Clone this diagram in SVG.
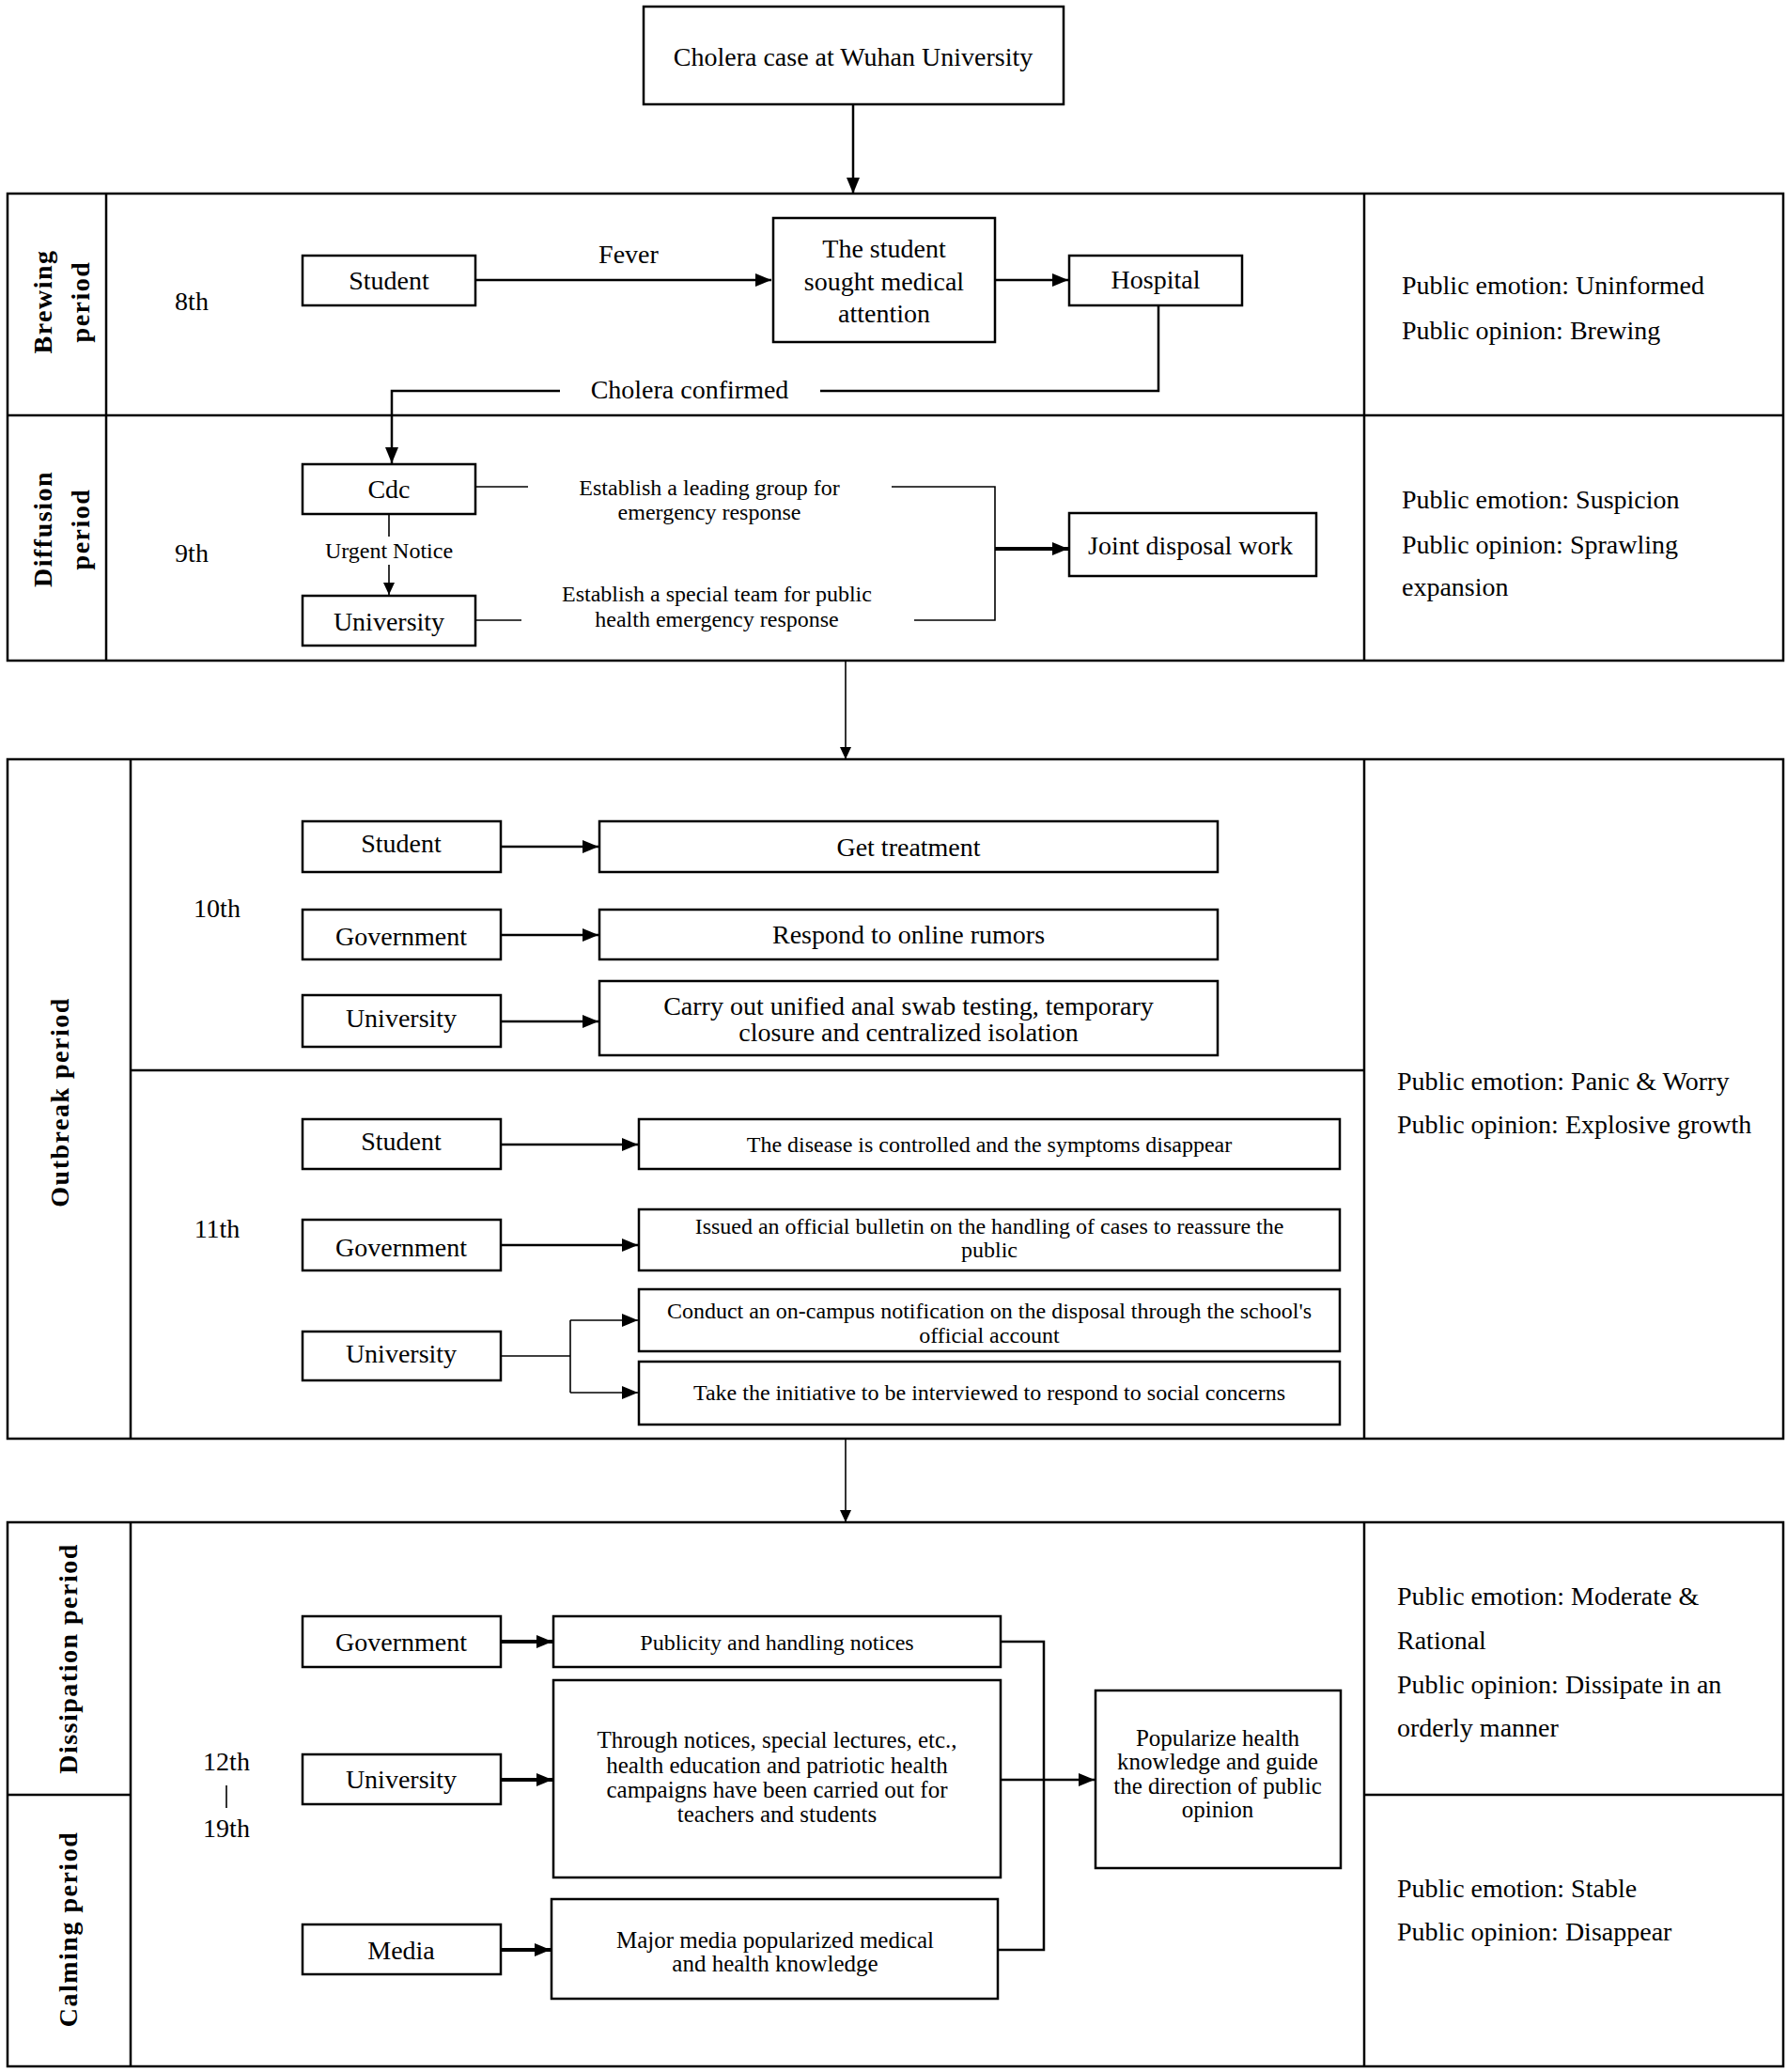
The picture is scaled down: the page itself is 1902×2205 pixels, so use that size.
<svg xmlns="http://www.w3.org/2000/svg" width="1902" height="2205" viewBox="0 0 1902 2205">
<defs>
<marker id="ah" markerUnits="userSpaceOnUse" markerWidth="18" markerHeight="16" refX="17" refY="8" orient="auto">
<path d="M0,1 L17,8 L0,15 z" fill="#000"/>
</marker>
<marker id="ahs" markerUnits="userSpaceOnUse" markerWidth="14" markerHeight="14" refX="13" refY="7" orient="auto">
<path d="M0,1 L13,7 L0,13 z" fill="#000"/>
</marker>
</defs>
<style>
.box{fill:#fff;stroke:#000;stroke-width:2.5}
.frame{fill:none;stroke:#000;stroke-width:2.5}
.ln{fill:none;stroke:#000;stroke-width:2.5}
.thin{fill:none;stroke:#000;stroke-width:1.6}
.t{font-family:"Liberation Serif","Times New Roman",serif;font-size:28px;text-anchor:middle;dominant-baseline:central;fill:#000}
.s{font-size:24px}
.m{font-size:25px}
.r{text-anchor:start}
.lbl{font-weight:bold;letter-spacing:1.5px}
</style>
<rect width="1902" height="2205" fill="#fff"/>

<g id="frames">
<rect class="frame" x="8" y="206" width="1890" height="497"/>
<line class="frame" x1="8" y1="442" x2="1898" y2="442"/>
<line class="frame" x1="113" y1="206" x2="113" y2="703"/>
<line class="frame" x1="1452" y1="206" x2="1452" y2="703"/>
<rect class="frame" x="8" y="808" width="1890" height="723"/>
<line class="frame" x1="139" y1="808" x2="139" y2="1531"/>
<line class="frame" x1="1452" y1="808" x2="1452" y2="1531"/>
<line class="frame" x1="139" y1="1139" x2="1452" y2="1139"/>
<rect class="frame" x="8" y="1620" width="1890" height="579"/>
<line class="frame" x1="139" y1="1620" x2="139" y2="2199"/>
<line class="frame" x1="1452" y1="1620" x2="1452" y2="2199"/>
<line class="frame" x1="8" y1="1910" x2="139" y2="1910"/>
<line class="frame" x1="1452" y1="1910" x2="1898" y2="1910"/>
</g>

<g id="period-labels">
<text class="t lbl" transform="translate(45,321) rotate(-90)">Brewing</text>
<text class="t lbl" transform="translate(85,321) rotate(-90)">period</text>
<text class="t lbl" transform="translate(45,563) rotate(-90)">Diffusion</text>
<text class="t lbl" transform="translate(85,563) rotate(-90)">period</text>
<text class="t lbl" transform="translate(63,1173) rotate(-90)">Outbreak period</text>
<text class="t lbl" transform="translate(72,1765) rotate(-90)">Dissipation period</text>
<text class="t lbl" transform="translate(72,2053) rotate(-90)">Calming period</text>
</g>

<g id="days">
<text class="t" x="204" y="320">8th</text>
<text class="t" x="204" y="588">9th</text>
<text class="t" x="231" y="966">10th</text>
<text class="t" x="231" y="1307">11th</text>
<text class="t" x="241" y="1874">12th</text>
<line class="thin" x1="241" y1="1900" x2="241" y2="1924"/>
<text class="t" x="241" y="1945">19th</text>
</g>

<g id="public-status">
<text class="t r" x="1492" y="303">Public emotion: Uninformed</text>
<text class="t r" x="1492" y="351">Public opinion: Brewing</text>
<text class="t r" x="1492" y="531">Public emotion: Suspicion</text>
<text class="t r" x="1492" y="579">Public opinion: Sprawling</text>
<text class="t r" x="1492" y="624">expansion</text>
<text class="t r" x="1487" y="1150">Public emotion: Panic &amp; Worry</text>
<text class="t r" x="1487" y="1196">Public opinion: Explosive growth</text>
<text class="t r" x="1487" y="1698">Public emotion: Moderate &amp;</text>
<text class="t r" x="1487" y="1745">Rational</text>
<text class="t r" x="1487" y="1792">Public opinion: Dissipate in an</text>
<text class="t r" x="1487" y="1838">orderly manner</text>
<text class="t r" x="1487" y="2009">Public emotion: Stable</text>
<text class="t r" x="1487" y="2055">Public opinion: Disappear</text>
</g>

<g id="connectors">
<line class="ln" x1="908" y1="111" x2="908" y2="206" marker-end="url(#ah)"/>
<line class="ln" x1="506" y1="298" x2="821" y2="298" marker-end="url(#ah)"/>
<text class="t" x="669" y="270">Fever</text>
<line class="ln" x1="1059" y1="298" x2="1137" y2="298" marker-end="url(#ah)"/>
<polyline class="ln" points="1233,325 1233,416 873,416"/>
<text class="t" x="734" y="414">Cholera confirmed</text>
<polyline class="ln" points="596,416 417,416 417,493" marker-end="url(#ah)"/>
<line class="thin" x1="414" y1="547" x2="414" y2="571"/>
<text class="t s" x="414" y="586">Urgent Notice</text>
<line class="thin" x1="414" y1="601" x2="414" y2="633" marker-end="url(#ahs)"/>
<line class="thin" x1="506" y1="518" x2="562" y2="518"/>
<text class="t s" x="755" y="519">Establish a leading group for</text>
<text class="t s" x="755" y="545">emergency response</text>
<polyline class="thin" points="949,518 1059,518 1059,660 973,660"/>
<line class="thin" x1="506" y1="660" x2="555" y2="660"/>
<text class="t s" x="763" y="632">Establish a special team for public</text>
<text class="t s" x="763" y="659">health emergency response</text>
<line x1="1059" y1="584" x2="1137" y2="584" stroke="#000" stroke-width="4" marker-end="url(#ah)"/>
<line class="thin" x1="900" y1="703" x2="900" y2="808" marker-end="url(#ahs)"/>

<line class="ln" x1="533" y1="901" x2="637" y2="901" marker-end="url(#ah)"/>
<line class="ln" x1="533" y1="995" x2="637" y2="995" marker-end="url(#ah)"/>
<line class="ln" x1="533" y1="1087" x2="637" y2="1087" marker-end="url(#ah)"/>
<line class="ln" x1="533" y1="1218" x2="679" y2="1218" marker-end="url(#ah)"/>
<line class="ln" x1="533" y1="1325" x2="679" y2="1325" marker-end="url(#ah)"/>
<line class="thin" x1="533" y1="1443" x2="607" y2="1443"/>
<line class="thin" x1="607" y1="1405" x2="607" y2="1482"/>
<line class="thin" x1="607" y1="1405" x2="679" y2="1405" marker-end="url(#ah)"/>
<line class="thin" x1="607" y1="1482" x2="679" y2="1482" marker-end="url(#ah)"/>
<line class="thin" x1="900" y1="1531" x2="900" y2="1620" marker-end="url(#ahs)"/>

<line x1="533" y1="1747" x2="588" y2="1747" stroke="#000" stroke-width="4" marker-end="url(#ah)"/>
<line x1="533" y1="1894" x2="588" y2="1894" stroke="#000" stroke-width="4" marker-end="url(#ah)"/>
<line x1="533" y1="2075" x2="586" y2="2075" stroke="#000" stroke-width="4" marker-end="url(#ah)"/>
<polyline class="ln" points="1065,1747 1111,1747 1111,2075 1062,2075"/>
<line class="ln" x1="1065" y1="1894" x2="1165" y2="1894" marker-end="url(#ah)"/>
</g>

<g id="n-top"><rect class="box" x="685" y="7" width="447" height="104"/><text class="t" x="908" y="60">Cholera case at Wuhan University</text></g>
<g id="n-student8"><rect class="box" x="322" y="272" width="184" height="53"/><text class="t" x="414" y="298">Student</text></g>
<g id="n-sought"><rect class="box" x="823" y="232" width="236" height="132"/><text class="t" x="941" y="264">The student</text><text class="t" x="941" y="299">sought medical</text><text class="t" x="941" y="333">attention</text></g>
<g id="n-hospital"><rect class="box" x="1138" y="272" width="184" height="53"/><text class="t" x="1230" y="297">Hospital</text></g>
<g id="n-cdc"><rect class="box" x="322" y="494" width="184" height="53"/><text class="t" x="414" y="520">Cdc</text></g>
<g id="n-univ9"><rect class="box" x="322" y="634" width="184" height="53"/><text class="t" x="414" y="661">University</text></g>
<g id="n-joint"><rect class="box" x="1138" y="546" width="263" height="67"/><text class="t" x="1267" y="580">Joint disposal work</text></g>

<g id="n-student10"><rect class="box" x="322" y="874" width="211" height="54"/><text class="t" x="427" y="897">Student</text></g>
<g id="n-treat"><rect class="box" x="638" y="874" width="658" height="54"/><text class="t" x="967" y="901">Get treatment</text></g>
<g id="n-gov10"><rect class="box" x="322" y="968" width="211" height="53"/><text class="t" x="427" y="996">Government</text></g>
<g id="n-rumors"><rect class="box" x="638" y="968" width="658" height="53"/><text class="t" x="967" y="994">Respond to online rumors</text></g>
<g id="n-univ10"><rect class="box" x="322" y="1059" width="211" height="55"/><text class="t" x="427" y="1083">University</text></g>
<g id="n-swab"><rect class="box" x="638" y="1044" width="658" height="79"/><text class="t" x="967" y="1070">Carry out unified anal swab testing, temporary</text><text class="t" x="967" y="1098">closure and centralized isolation</text></g>

<g id="n-student11"><rect class="box" x="322" y="1191" width="211" height="53"/><text class="t" x="427" y="1214">Student</text></g>
<g id="n-disease"><rect class="box" x="680" y="1191" width="746" height="53"/><text class="t s" x="1053" y="1218">The disease is controlled and the symptoms disappear</text></g>
<g id="n-gov11"><rect class="box" x="322" y="1298" width="211" height="54"/><text class="t" x="427" y="1327">Government</text></g>
<g id="n-bulletin"><rect class="box" x="680" y="1287" width="746" height="65"/><text class="t s" x="1053" y="1305">Issued an official bulletin on the handling of cases to reassure the</text><text class="t s" x="1053" y="1330">public</text></g>
<g id="n-univ11"><rect class="box" x="322" y="1417" width="211" height="52"/><text class="t" x="427" y="1440">University</text></g>
<g id="n-notify"><rect class="box" x="680" y="1372" width="746" height="66"/><text class="t s" x="1053" y="1395">Conduct an on-campus notification on the disposal through the school's</text><text class="t s" x="1053" y="1421">official account</text></g>
<g id="n-interview"><rect class="box" x="680" y="1449" width="746" height="67"/><text class="t s" x="1053" y="1482">Take the initiative to be interviewed to respond to social concerns</text></g>

<g id="n-gov12"><rect class="box" x="322" y="1720" width="211" height="54"/><text class="t" x="427" y="1747">Government</text></g>
<g id="n-publicity"><rect class="box" x="589" y="1720" width="476" height="54"/><text class="t s" x="827" y="1748">Publicity and handling notices</text></g>
<g id="n-univ12"><rect class="box" x="322" y="1867" width="211" height="53"/><text class="t" x="427" y="1893">University</text></g>
<g id="n-lectures"><rect class="box" x="589" y="1788" width="476" height="210"/><text class="t m" x="827" y="1851">Through notices, special lectures, etc.,</text><text class="t m" x="827" y="1878">health education and patriotic health</text><text class="t m" x="827" y="1904">campaigns have been carried out for</text><text class="t m" x="827" y="1930">teachers and students</text></g>
<g id="n-media"><rect class="box" x="322" y="2048" width="211" height="53"/><text class="t" x="427" y="2075">Media</text></g>
<g id="n-mediaknow"><rect class="box" x="587" y="2021" width="475" height="106"/><text class="t m" x="825" y="2064">Major media popularized medical</text><text class="t m" x="825" y="2089">and health knowledge</text></g>
<g id="n-popularize"><rect class="box" x="1166" y="1799" width="261" height="189"/><text class="t m" x="1296" y="1849">Popularize health</text><text class="t m" x="1296" y="1874">knowledge and guide</text><text class="t m" x="1296" y="1900">the direction of public</text><text class="t m" x="1296" y="1925">opinion</text></g>
</svg>
